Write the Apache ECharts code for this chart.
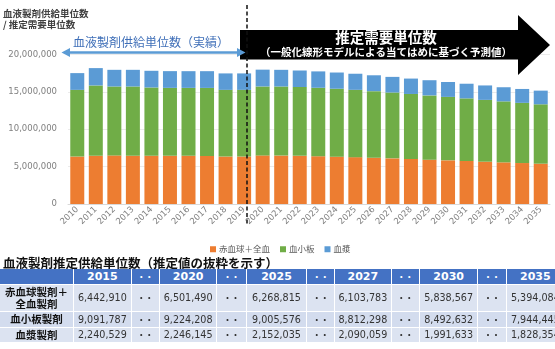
<!DOCTYPE html>
<html><head><meta charset="utf-8">
<script src="https://cdn.jsdelivr.net/npm/echarts@6/dist/echarts.min.js"></script>
<style>
html,body{margin:0;padding:0;background:#fff;}
#wrap{position:relative;width:555px;height:349px;overflow:hidden;}
#c{position:absolute;left:0;top:0;width:555px;height:349px;}
.cell{position:absolute;box-sizing:border-box;display:flex;align-items:center;justify-content:center;white-space:nowrap;overflow:visible;}
#ttl{position:absolute;left:3px;top:253px;font:bold 12.5px "Noto Sans CJK JP";color:#111;white-space:nowrap;}
</style></head>
<body><div id="wrap"><div id="c"></div><div id="ttl">血液製剤推定供給単位数（推定値の抜粋を示す）</div><div id="tbl"></div></div>
<script>
const years = ['2010','2011','2012','2013','2014','2015','2016','2017','2018','2019','2020','2021','2022','2023','2024','2025','2026','2027','2028','2029','2030','2031','2032','2033','2034','2035'];
const rbc = [6350000,6450000,6500000,6450000,6450000,6442910,6450000,6420000,6350000,6350000,6501490,6480000,6440000,6390000,6330000,6268815,6190000,6103783,6020000,5930000,5838567,5750000,5660000,5570000,5480000,5394084];
const plt = [8920000,9410000,9220000,9270000,9140000,9091787,9085000,9110000,8920000,8920000,9224208,9240000,9210000,9160000,9090000,9005576,8910000,8812298,8700000,8600000,8492632,8380000,8270000,8160000,8050000,7944445];
const pls = [2240000,2320000,2230000,2230000,2230000,2240529,2235000,2240000,2200000,2200000,2246145,2230000,2210000,2190000,2170000,2152035,2120000,2090059,2060000,2030000,1991633,1960000,1930000,1890000,1860000,1828354];
const seriesNames = ['赤血球＋全血','血小板','血漿'];
const yTicks = [0,5000000,10000000,15000000,20000000];

const tableYears = ['2015','2020','2025','2027','2030','2035'];
const tableRowLabels = ['赤血球製剤＋<br>全血製剤','血小板製剤','血漿製剤'];
const tableRbc = [6442910,6501490,6268815,6103783,5838567,5394084];
const tablePlt = [9091787,9224208,9005576,8812298,8492632,7944445];
const tablePls = [2240529,2246145,2152035,2090059,1991633,1828354];

const chart = echarts.init(document.getElementById('c'));
const numFont = '"DejaVu Sans"';
const jpFont = '"Noto Sans CJK JP"';
chart.setOption({
  animation:false,
  grid:{left:68,right:5,top:54.5,bottom:145},
  legend:{data:seriesNames,left:205,top:240,icon:'rect',itemWidth:6,itemHeight:6,itemGap:10,
    textStyle:{fontSize:8.5,color:'#595959',fontFamily:jpFont,padding:[0,0,0,-2]}},
  xAxis:{type:'category',data:years,axisTick:{show:false},
    axisLine:{lineStyle:{color:'#d9d9d9'}},
    axisLabel:{rotate:45,interval:0,fontSize:8.5,color:'#808080',margin:4,fontFamily:numFont}},
  yAxis:{type:'value',min:yTicks[0],max:yTicks[yTicks.length-1],interval:yTicks[1]-yTicks[0],
    axisLabel:{formatter:v=>v.toLocaleString('en-US'),fontSize:8.5,color:'#808080',margin:11,fontFamily:numFont},
    splitLine:{lineStyle:{color:'#ebebeb'}}},
  series:[
    {name:seriesNames[0],type:'bar',stack:'a',data:rbc,barWidth:14,itemStyle:{color:'#ED7D31'}},
    {name:seriesNames[1],type:'bar',stack:'a',data:plt,barWidth:14,itemStyle:{color:'#70AD47'}},
    {name:seriesNames[2],type:'bar',stack:'a',data:pls,barWidth:14,itemStyle:{color:'#5B9BD5'}}
  ],
  graphic:[
    {type:'text',left:3,top:9,style:{text:'血液製剤供給単位数',font:'bold 9.5px '+jpFont,fill:'#404040'}},
    {type:'text',left:3,top:20,style:{text:'/ 推定需要単位数',font:'bold 9.5px '+jpFont,fill:'#404040'}},
    {type:'polygon',shape:{points:[[240,30],[518,30],[518,15],[550,45],[518,75],[518,59.5],[240,59.5]]},style:{fill:'#000'},z:10},
    {type:'text',x:386,y:37,style:{text:'推定需要単位数',font:'bold 14.5px '+jpFont,fill:'#fff',align:'center',verticalAlign:'middle'},z:11},
    {type:'text',x:386,y:52,style:{text:'（一般化線形モデルによる当てはめに基づく予測値）',font:'bold 10.5px '+jpFont,fill:'#fff',align:'center',verticalAlign:'middle'},z:11},
    {type:'text',x:151,y:42,style:{text:'血液製剤供給単位数（実績）',font:'12px '+jpFont,fill:'#3f6fb8',align:'center',verticalAlign:'middle'},z:11},
    {type:'line',shape:{x1:66,y1:52.5,x2:241,y2:52.5},style:{stroke:'#5B9BD5',lineWidth:2.5},z:11},
    {type:'polygon',shape:{points:[[61.5,52.5],[70,48],[70,57]]},style:{fill:'#5B9BD5'},z:11},
    {type:'polygon',shape:{points:[[245.5,52.5],[237,48],[237,57]]},style:{fill:'#5B9BD5'},z:11},
    {type:'line',shape:{x1:247,y1:5,x2:247,y2:226},style:{stroke:'#111',lineWidth:1.5,lineDash:[4,2.5]},z:12}
  ]
});

// table
const colEdges = [0,74,131.7,160,217.3,246.7,307.3,335,391.7,420,478.3,506.7,565];
const rowEdges = [269,284.5,311.5,327.5,342.5];
const rowBg = ['#4472C4','#DCE3F1','#D3DCEE','#DCE3F1'];
const tbl = document.getElementById('tbl');
const fmt = v=>v.toLocaleString('en-US');
const dataRows = [tableRbc,tablePlt,tablePls];
function cell(ci,ri,html,style){
  const d=document.createElement('div');
  d.className='cell';
  d.style.left=colEdges[ci]+'px';
  d.style.top=rowEdges[ri]+'px';
  d.style.width=(colEdges[ci+1]-colEdges[ci])+'px';
  d.style.height=(rowEdges[ri+1]-rowEdges[ri])+'px';
  d.style.background=rowBg[ri];
  d.style.borderRight='1px solid #fff';
  d.style.borderBottom='1px solid #fff';
  Object.assign(d.style,style||{});
  d.innerHTML=html;
  tbl.appendChild(d);
}
const hdr={color:'#fff',font:'bold 11px "DejaVu Sans"'};
const lab={color:'#111',font:'bold 10.5px "Noto Sans CJK JP"',lineHeight:'12px',textAlign:'center'};
const num={color:'#333',font:'9.6px "DejaVu Sans"'};
const dots={color:'#333',font:'bold 8px "Noto Sans CJK JP"'};
for(let ri=0;ri<4;ri++){
  for(let ci=0;ci<colEdges.length-1;ci++){
    if(ci===0){
      cell(ci,ri,ri===0?'':tableRowLabels[ri-1],lab);
    } else if(ci%2===0){
      cell(ci,ri,'・・',ri===0?Object.assign({},dots,{color:'#fff'}):dots);
    } else {
      const k=(ci-1)/2;
      cell(ci,ri,ri===0?tableYears[k]:fmt(dataRows[ri-1][k]),ri===0?hdr:num);
    }
  }
}
</script></body></html>
